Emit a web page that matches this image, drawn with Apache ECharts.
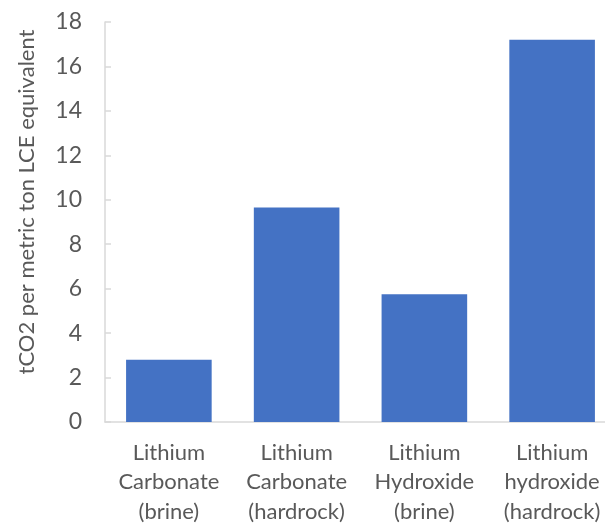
<!DOCTYPE html>
<html>
<head>
<meta charset="utf-8">
<script src="https://cdn.jsdelivr.net/npm/echarts@6/dist/echarts.min.js"></script>
<style>
html,body{margin:0;padding:0;background:#fff;overflow:hidden;width:605px;height:525px;}
#c{width:616px;height:525px;}
</style>
</head>
<body>
<div id="c"></div>
<script>
const categories = [
  "Lithium\nCarbonate\n(brine)",
  "Lithium\nCarbonate\n(hardrock)",
  "Lithium\nHydroxide\n(brine)",
  "Lithium\nhydroxide\n(hardrock)"
];
const values = [2.8, 9.65, 5.75, 17.2];
const yMin = 0, yMax = 18, yInterval = 2;
const yTitle = "tCO2 per metric ton LCE equivalent";

const chart = echarts.init(document.getElementById('c'), null, {renderer:'canvas'});
const font = 'Lato, "Open Sans", sans-serif';
chart.setOption({
  animation:false,
  backgroundColor:'#ffffff',
  grid:{left:105, top:22, height:400, width:511, containLabel:false, outerBoundsMode:'none'},
  xAxis:{
    type:'category',
    data:categories,
    axisLine:{show:true, lineStyle:{color:'#d9d9d9', width:1.5}},
    axisTick:{show:false},
    axisLabel:{color:'#595959', fontSize:22, fontFamily:font, lineHeight:29.5, margin:16, interval:0}
  },
  yAxis:{
    type:'value',
    min:yMin, max:yMax, interval:yInterval,
    name:yTitle,
    nameLocation:'middle',
    nameGap:67,
    nameRotate:90,
    nameTextStyle:{color:'#595959', fontSize:22, fontFamily:font, padding:[0,0,0,40]},
    axisLine:{show:true, lineStyle:{color:'#d9d9d9', width:1.5}},
    axisTick:{show:true, inside:true, length:6, lineStyle:{color:'#d9d9d9', width:1.5}},
    splitLine:{show:false},
    axisLabel:{color:'#595959', fontSize:23, fontFamily:font, margin:23}
  },
  series:[{
    type:'bar',
    data:values,
    barCategoryGap:'33%',
    itemStyle:{color:'#4472C4'}
  }]
});
</script>
</body>
</html>
